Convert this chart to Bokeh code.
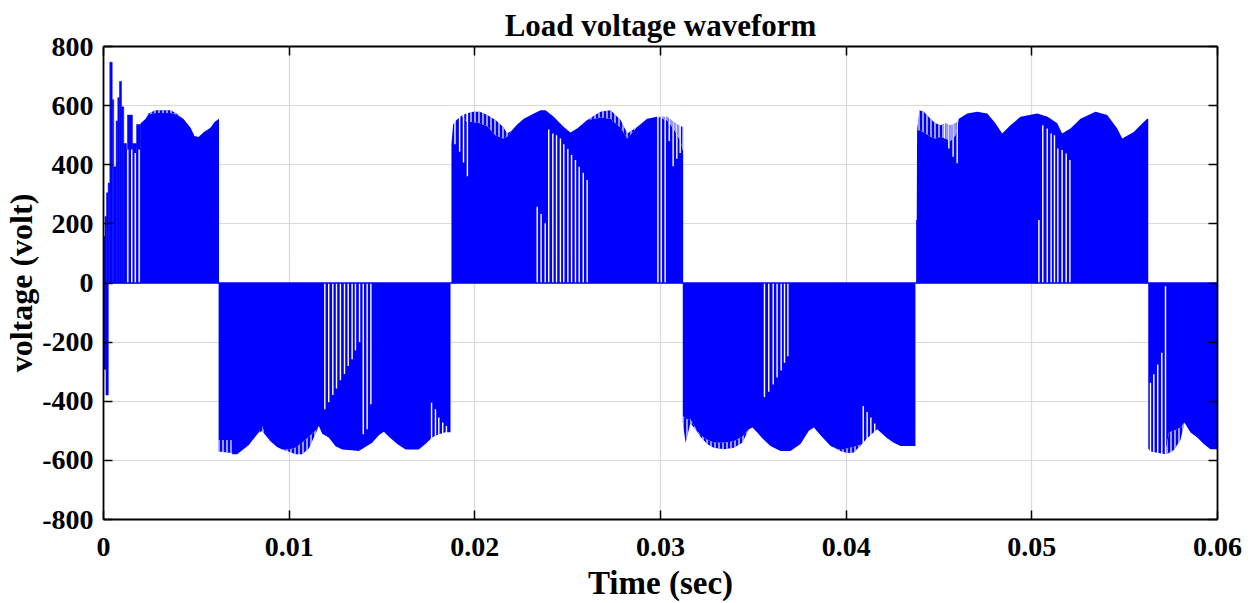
import numpy as np
from bokeh.plotting import figure
from bokeh.models import Range1d, LinearAxis, FixedTicker
from bokeh.embed import file_html
from bokeh.resources import INLINE

BLUE = "#0000ff"
FONT = "Liberation Serif"

# ---------------- axis ticks ----------------
x_ticks = [0, 0.01, 0.02, 0.03, 0.04, 0.05, 0.06]
x_tick_labels = ["0", "0.01", "0.02", "0.03", "0.04", "0.05", "0.06"]
y_ticks = [-800, -600, -400, -200, 0, 200, 400, 600, 800]
y_tick_labels = ["-800", "-600", "-400", "-200", "0", "200", "400", "600", "800"]

# ---------------- data (time in ms, voltage in V) ----------------
# start-up transient, individual pulses (left, right, level)
start_left_ms = [0.00, 0.08, 0.16, 0.25, 0.34, 0.47, 0.55, 0.68, 0.77, 0.86, 0.97, 1.09, 1.24, 1.29, 1.56, 1.78]
start_right_ms = [0.08, 0.16, 0.25, 0.34, 0.47, 0.55, 0.68, 0.77, 0.86, 0.97, 1.09, 1.24, 1.29, 1.56, 1.78, 2.01]
start_level = [157, 225, 305, 338, 747, 620, 393, 548, 627, 682, 596, 472, 452, 568, 472, 536]
start_neg_left_ms = [0.00, 0.13]
start_neg_right_ms = [0.13, 0.26]
start_neg_level = [-292, -379]

# half-cycle envelopes: pulse peaks ("peak") and the solid body ("body")
a_t = [2.00, 2.26, 2.42, 2.80, 3.61, 3.93, 4.31, 4.69, 4.90, 5.12, 5.39, 5.76, 5.98, 6.22]
a_peak = [540, 555, 573, 584, 584, 573, 555, 525, 497, 494, 510, 525, 545, 556]
a_body = [540, 555, 570, 575, 575, 570, 555, 525, 497, 494, 510, 525, 545, 556]

b_t = [6.20, 6.90, 6.93, 7.20, 7.47, 7.83, 8.10, 8.36, 8.55, 8.73, 8.99, 9.35, 9.62, 9.98, 10.34,
       10.70, 11.06, 11.42, 11.60, 11.78, 12.13, 12.50, 12.86, 13.21, 13.75, 14.47, 14.83, 15.10,
       15.37, 15.82, 16.27, 16.98, 17.34, 17.70, 18.06, 18.42, 18.69]
b_peak = [-570, -575, -579, -579, -566, -548, -526, -506, -484, -515, -535, -555, -563, -570, -579,
          -579, -560, -510, -484, -510, -523, -552, -563, -565, -568, -540, -515, -503,
          -520, -545, -563, -563, -545, -523, -512, -505, -505]
b_body = [-531, -531, -579, -579, -566, -548, -526, -506, -500, -515, -535, -555, -563, -563, -557,
          -540, -520, -500, -484, -510, -523, -552, -563, -565, -568, -540, -515, -503,
          -520, -545, -563, -563, -545, -523, -512, -505, -505]

c_t = [18.74, 18.83, 19.01, 19.19, 19.37, 19.55, 19.91, 20.27, 20.67, 21.11, 21.53, 21.74, 22.00,
       22.28, 22.64, 23.18, 23.54, 23.81, 24.25, 24.79, 25.15, 25.51, 26.05, 26.77, 27.31, 27.85,
       28.21, 28.74, 29.28, 29.82, 30.36, 30.72, 31.08, 31.22]
c_peak = [469, 536, 551, 562, 568, 573, 579, 579, 568, 551, 528, 506, 517,
          536, 556, 573, 584, 584, 562, 528, 509, 523, 551, 579, 584, 551,
          506, 528, 556, 562, 562, 545, 530, 528]
c_body = [469, 536, 551, 560, 562, 545, 545, 540, 530, 500, 489, 495, 517,
          536, 556, 573, 584, 584, 562, 528, 509, 523, 551, 560, 556, 525,
          489, 528, 556, 562, 550, 520, 480, 444]

d_t = [31.20, 31.35, 31.61, 31.88, 32.15, 32.51, 32.87, 33.41, 33.95, 34.40, 34.76, 34.95, 35.20,
       35.48, 35.92, 36.46, 37.00, 37.54, 37.99, 38.26, 38.62, 39.16, 39.69, 40.05, 40.41, 40.86,
       41.13, 41.49, 41.67, 41.85, 42.21, 42.56, 42.93, 43.29, 43.64, 43.73]
d_peak = [-470, -540, -475, -495, -520, -545, -557, -562, -557, -540, -495, -489, -505,
          -525, -551, -568, -568, -545, -500, -489, -515, -551, -568, -575, -573, -545,
          -525, -505, -495, -505, -525, -540, -551, -551, -551, -551]
d_body = [-450, -460, -461, -490, -515, -530, -540, -540, -535, -520, -495, -489, -505,
          -525, -551, -568, -568, -545, -500, -489, -515, -551, -565, -560, -555, -545,
          -525, -505, -495, -505, -525, -540, -551, -551, -551, -551]

e_t = [43.77, 43.80, 43.82, 43.95, 44.18, 44.54, 44.81, 45.08, 45.35, 45.62, 45.89, 46.07, 46.52,
       47.06, 47.60, 48.04, 48.40, 48.85, 49.39, 50.29, 50.85, 51.37, 51.63, 52.08, 52.62, 53.43,
       54.06, 54.60, 54.87, 55.49, 55.85, 56.21, 56.27]
e_peak = [213, 213, 517, 584, 579, 556, 540, 534, 540, 534, 540, 556, 573,
          579, 573, 540, 506, 534, 562, 573, 562, 540, 506, 523, 556, 579,
          568, 523, 489, 511, 534, 556, 556]
e_body = [213, 213, 517, 517, 510, 495, 489, 495, 489, 480, 500, 556, 573,
          579, 573, 540, 506, 534, 562, 573, 562, 540, 506, 523, 556, 579,
          568, 523, 489, 511, 534, 556, 556]

f_t = [56.27, 56.39, 57.20, 57.38, 57.65, 58.01, 58.22, 58.55, 58.91, 59.26, 59.62, 60.00]
f_peak = [-560, -570, -579, -575, -565, -530, -472, -506, -523, -545, -562, -562]
f_body = [-560, -570, -579, -506, -500, -489, -472, -506, -523, -545, -562, -562]

# white gaps between pulses (time ms, from V, to V)
gap_t = [1.31, 1.52, 1.71, 1.92,
         11.92, 12.13, 12.35, 12.55, 12.76, 12.98, 13.18, 13.39, 13.57, 13.79, 13.99, 14.20, 14.40,
         17.67, 17.88, 18.06, 18.27, 18.47,
         18.93, 19.18, 19.39, 19.60,
         23.36, 23.57, 23.79, 23.98, 24.20, 24.40, 24.61, 24.79, 25.01, 25.21, 25.42, 25.62, 25.84, 26.05,
         29.86, 30.04, 30.25, 30.47, 30.68, 30.88, 31.06,
         35.60, 35.83, 36.07, 36.28, 36.50, 36.68, 36.86,
         40.92, 41.13, 41.33, 41.54,
         45.31, 45.53, 45.76, 45.98,
         50.38, 50.59, 50.83, 51.04, 51.22, 51.40, 51.63, 51.85, 52.05,
         56.39, 56.57, 56.78, 57.00, 57.20]
gap_from = [0, 0, 0, 0,
            0, 0, 0, 0, 0, 0, 0, 0, 0, 0, 0, 0, 0,
            -405, -427, -455, -472, -484,
            469, 444, 408, 361,
            0, 0, 0, 0, 0, 0, 0, 0, 0, 0, 0, 0, 0, 0,
            0, 0, 0, 480, 395, 420, 440,
            0, 0, 0, 0, 0, 0, 0,
            -416, -436, -455, -475,
            489, 455, 427, 405,
            0, 0, 0, 0, 0, 0, 0, 0, 0,
            -337, -309, -276, -236, -11]
gap_to = [452, 452, 440, 452,
          -427, -403, -379, -357, -329, -308, -281, -258, -228, -200, -512, -495, -410,
          -535, -535, -535, -535, -535,
          600, 600, 600, 600,
          258, 233, 202, 519, 506, 500, 489, 469, 453, 433, 416, 393, 373, 348,
          600, 600, 600, 600, 600, 600, 600,
          -386, -368, -343, -320, -296, -270, -248,
          -590, -590, -590, -590,
          600, 600, 600, 600,
          213, 534, 523, 506, 500, 455, 450, 438, 416,
          -590, -590, -590, -590, -590]

# ---------------- figure ----------------
p = figure(width=1254, height=603, output_backend="svg", toolbar_location=None,
           x_range=Range1d(0, 0.06), y_range=Range1d(-800, 800),
           min_border_left=103, min_border_right=37, min_border_top=46, min_border_bottom=83)
p.background_fill_color = "white"
p.border_fill_color = "white"
p.outline_line_color = None

ms = lambda v: np.asarray(v, dtype=float) / 1000.0

half_cycles = [(a_t, a_peak, a_body), (b_t, b_peak, b_body), (c_t, c_peak, c_body),
               (d_t, d_peak, d_body), (e_t, e_peak, e_body), (f_t, f_peak, f_body)]
for t, pk, bd in half_cycles:
    x = ms(t)
    p.varea(x=x, y1=np.zeros(len(x)), y2=np.asarray(bd, float), fill_color=BLUE)
    p.varea(x=x, y1=np.asarray(bd, float), y2=np.asarray(pk, float), fill_color=BLUE,
            hatch_pattern="vertical_line", hatch_color="white", hatch_scale=4, hatch_weight=1.2)

p.quad(left=ms(start_left_ms), right=ms(start_right_ms), bottom=0, top=start_level,
       fill_color=BLUE, line_color=BLUE, line_width=0.5)
p.quad(left=ms(start_neg_left_ms), right=ms(start_neg_right_ms), bottom=0, top=start_neg_level,
       fill_color=BLUE, line_color=BLUE, line_width=0.5)

p.segment(x0=ms(gap_t), y0=gap_from, x1=ms(gap_t), y1=gap_to, line_color="white", line_width=1.4)

p.line(x=[0, 0.06], y=[0, 0], line_color=BLUE, line_width=1.5)

# ---------------- axes ----------------
xt = FixedTicker(ticks=x_ticks)
yt = FixedTicker(ticks=y_ticks)
bottom_ax = p.below[0]
left_ax = p.left[0]
bottom_ax.ticker = xt
left_ax.ticker = yt
bottom_ax.major_label_overrides = dict(zip(x_ticks, x_tick_labels))
left_ax.major_label_overrides = dict(zip(y_ticks, y_tick_labels))
top_ax = LinearAxis(ticker=xt)
right_ax = LinearAxis(ticker=yt)
p.add_layout(top_ax, "above")
p.add_layout(right_ax, "right")
for ax in (bottom_ax, left_ax, top_ax, right_ax):
    ax.axis_line_color = "black"
    ax.axis_line_width = 1.8
    ax.major_tick_line_color = "black"
    ax.major_tick_line_width = 1.5
    ax.major_tick_in = 9
    ax.major_tick_out = 0
    ax.minor_tick_line_color = None
    ax.major_label_text_font = FONT
    ax.major_label_text_font_style = "bold"
    ax.major_label_text_color = "black"
    ax.major_label_text_font_size = "28px"
for ax in (top_ax, right_ax):
    ax.major_label_text_color = None
    ax.major_label_text_font_size = "0px"
    ax.major_label_standoff = 0

bottom_ax.major_label_standoff = 18
left_ax.major_label_standoff = 10

bottom_ax.axis_label = "Time (sec)"
bottom_ax.axis_label_text_font = FONT
bottom_ax.axis_label_text_font_style = "bold"
bottom_ax.axis_label_text_font_size = "33px"
bottom_ax.axis_label_text_color = "black"
bottom_ax.axis_label_standoff = 6

left_ax.axis_label = "voltage (volt)"
left_ax.axis_label_text_font = FONT
left_ax.axis_label_text_font_style = "bold"
left_ax.axis_label_text_font_size = "32px"
left_ax.axis_label_text_color = "black"
left_ax.axis_label_standoff = 0

p.xgrid.ticker = xt
p.ygrid.ticker = yt
p.grid.grid_line_color = "#d9d9d9"
p.grid.grid_line_width = 1.2

# ---------------- title ----------------
p.title.text = "Load voltage waveform"
p.title.text_font = FONT
p.title.text_font_style = "bold"
p.title.text_font_size = "31px"
p.title.text_color = "black"
p.title.align = "center"
p.title.standoff = 8

open("out.html", "w").write(file_html(p, INLINE))
